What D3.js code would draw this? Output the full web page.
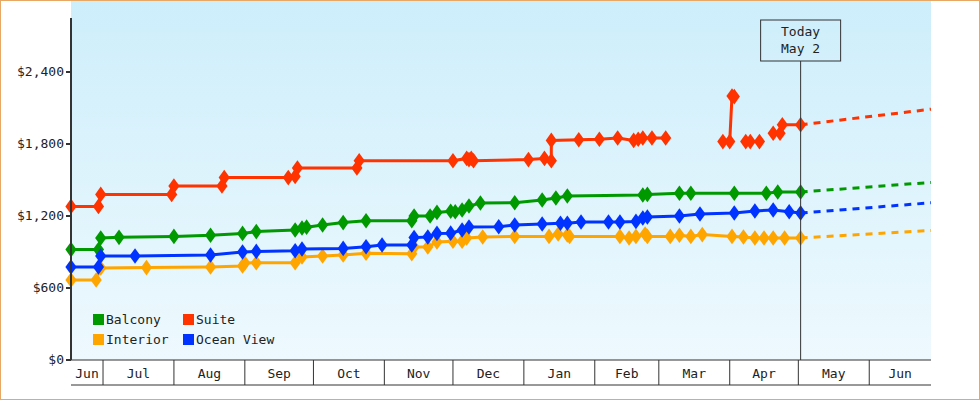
<!DOCTYPE html>
<html>
<head>
<meta charset="utf-8">
<script src="https://cdn.jsdelivr.net/npm/d3@7"></script>
<style>
  body { margin: 0; background: #fff; }
  svg { display: block; }
  text { font-family: "DejaVu Sans Mono", monospace; font-size: 13px; fill: #222; }
</style>
</head>
<body>
<svg id="chart" width="980" height="400"></svg>
<script>
// Price history per cabin type (date, price); null marks a gap
const balcony = [
  ["2024-06-17", 920], ["2024-06-29", 920], ["2024-06-30", 1017], ["2024-07-08", 1022],
  ["2024-08-01", 1030], ["2024-08-17", 1040], ["2024-08-31", 1055], ["2024-09-06", 1070],
  ["2024-09-23", 1083], ["2024-09-26", 1100], ["2024-09-28", 1107], ["2024-10-05", 1125],
  ["2024-10-14", 1145], ["2024-10-24", 1160], ["2024-11-13", 1160], ["2024-11-14", 1200],
  ["2024-11-21", 1200], ["2024-11-24", 1230], ["2024-11-30", 1240], ["2024-12-02", 1235],
  ["2024-12-05", 1250], ["2024-12-08", 1283], ["2024-12-13", 1308], ["2024-12-28", 1310],
  ["2025-01-09", 1333], ["2025-01-15", 1350], ["2025-01-20", 1367], ["2025-02-22", 1375],
  ["2025-02-24", 1380], ["2025-03-10", 1390], ["2025-03-15", 1390], ["2025-04-03", 1390],
  ["2025-04-17", 1390], ["2025-04-22", 1400], ["2025-05-02", 1400]
];
const suite = [
  ["2024-06-17", 1280], ["2024-06-29", 1280], ["2024-06-30", 1380], ["2024-07-31", 1380],
  ["2024-08-01", 1450], ["2024-08-22", 1450], ["2024-08-23", 1520], ["2024-09-20", 1520],
  ["2024-09-23", 1530], ["2024-09-24", 1600], ["2024-10-20", 1600], ["2024-10-21", 1660],
  ["2024-12-01", 1660], ["2024-12-07", 1680], ["2024-12-08", 1670], ["2024-12-09", 1680],
  ["2024-12-10", 1660], ["2025-01-03", 1670], ["2025-01-10", 1680], ["2025-01-13", 1660],
  ["2025-01-13", 1830], ["2025-01-25", 1835], ["2025-02-03", 1840], ["2025-02-11", 1850],
  ["2025-02-18", 1830], ["2025-02-20", 1840], ["2025-02-22", 1850], ["2025-02-26", 1850],
  ["2025-03-04", 1850], null,
  ["2025-03-29", 1820], ["2025-04-01", 1820], ["2025-04-02", 2200], ["2025-04-03", 2195], null,
  ["2025-04-08", 1820], ["2025-04-10", 1820], ["2025-04-14", 1820], null,
  ["2025-04-20", 1890], ["2025-04-23", 1890], ["2025-04-24", 1960], ["2025-05-02", 1960]
];
const interior = [
  ["2024-06-17", 667], ["2024-06-28", 667], ["2024-06-30", 767], ["2024-07-20", 770],
  ["2024-08-17", 775], ["2024-08-31", 783], ["2024-09-01", 808], ["2024-09-06", 810],
  ["2024-09-23", 810], ["2024-09-26", 858], ["2024-10-05", 867], ["2024-10-14", 875],
  ["2024-10-24", 889], ["2024-11-13", 886], ["2024-11-14", 942], ["2024-11-20", 942],
  ["2024-11-24", 983], ["2024-12-01", 990], ["2024-12-05", 990], ["2024-12-07", 1017],
  ["2024-12-14", 1025], ["2024-12-28", 1030], ["2025-01-12", 1030], ["2025-01-16", 1050],
  ["2025-01-20", 1042], ["2025-01-21", 1030], ["2025-02-12", 1030], ["2025-02-16", 1017],
  ["2025-02-19", 1030], ["2025-02-23", 1050], ["2025-02-24", 1030], ["2025-03-06", 1030],
  ["2025-03-10", 1040], ["2025-03-15", 1030], ["2025-03-20", 1045], ["2025-04-02", 1030],
  ["2025-04-07", 1025], ["2025-04-12", 1017], ["2025-04-16", 1017], ["2025-04-20", 1017],
  ["2025-04-25", 1017], ["2025-05-02", 1017]
];
const oceanView = [
  ["2024-06-17", 775], ["2024-06-29", 775], ["2024-06-30", 867], ["2024-07-15", 867],
  ["2024-08-17", 875], ["2024-08-31", 900], ["2024-09-06", 905], ["2024-09-23", 910],
  ["2024-09-26", 925], ["2024-10-14", 930], ["2024-10-24", 944], ["2024-10-31", 958],
  ["2024-11-13", 958], ["2024-11-14", 1020], ["2024-11-20", 1025], ["2024-11-24", 1055],
  ["2024-11-30", 1057], ["2024-12-05", 1083], ["2024-12-08", 1108], ["2024-12-21", 1110],
  ["2024-12-28", 1125], ["2025-01-09", 1133], ["2025-01-17", 1140], ["2025-01-20", 1140],
  ["2025-01-26", 1150], ["2025-02-07", 1150], ["2025-02-12", 1150], ["2025-02-19", 1155],
  ["2025-02-22", 1183], ["2025-02-24", 1192], ["2025-03-10", 1200], ["2025-03-19", 1217],
  ["2025-04-03", 1225], ["2025-04-12", 1242], ["2025-04-20", 1250], ["2025-04-27", 1235],
  ["2025-05-02", 1225]
];
// Projected end-of-range prices (dashed)
const forecastEnd = "2025-06-28";
const forecastValues = { Balcony: 1480, Suite: 2090, Interior: 1080, "Ocean View": 1310 };

const seriesNames = ["Balcony", "Suite", "Interior", "Ocean View"];
const seriesColors = ["#009900", "#ff3300", "#ffa500", "#0033ff"];
const yTicks = [0, 600, 1200, 1800, 2400];
const todayDate = "2025-05-02";
const todayLabel = ["Today", "May 2"];

const parse = d3.timeParse("%Y-%m-%d");
const svg = d3.select("#chart");
const plotLeft = 71, plotRight = 931, plotTop = 0, plotBottom = 360, axisBottom = 385;

const x = d3.scaleTime()
  .domain([parse("2024-06-17"), parse("2025-06-28")])
  .range([plotLeft, plotRight]);
const y = d3.scaleLinear().domain([0, 3000]).range([plotBottom, plotTop]);

// Background gradient
const grad = svg.append("defs").append("linearGradient")
  .attr("id", "bg").attr("x1", 0).attr("y1", 0).attr("x2", 0).attr("y2", 1);
grad.append("stop").attr("offset", "0%").attr("stop-color", "#cdeefb");
grad.append("stop").attr("offset", "100%").attr("stop-color", "#eef9fe");
svg.append("rect").attr("x", plotLeft).attr("y", plotTop)
  .attr("width", plotRight - plotLeft).attr("height", plotBottom - plotTop).attr("fill", "url(#bg)");

// Series
const line = d3.line()
  .defined(d => d !== null)
  .x(d => x(parse(d[0])))
  .y(d => y(d[1]));
const diamond = d3.symbol().type(d3.symbolDiamond).size(70);

[balcony, suite, interior, oceanView].forEach((data, i) => {
  const color = seriesColors[i];
  const last = data[data.length - 1];
  svg.append("path")
    .datum([last, [forecastEnd, forecastValues[seriesNames[i]]]])
    .attr("fill", "none").attr("stroke", color).attr("stroke-width", 3)
    .attr("stroke-dasharray", "7,6").attr("d", line);
  svg.append("path").datum(data)
    .attr("fill", "none").attr("stroke", color).attr("stroke-width", 3)
    .attr("d", line);
  svg.selectAll(null).data(data.filter(d => d !== null)).enter().append("path")
    .attr("transform", d => `translate(${x(parse(d[0]))},${y(d[1])}) scale(1.25,1)`)
    .attr("d", diamond).attr("fill", color);
});

// Today marker
const tx = x(parse(todayDate));
svg.append("line").attr("x1", tx).attr("x2", tx).attr("y1", 61).attr("y2", plotBottom)
  .attr("stroke", "#333").attr("stroke-width", 1);
svg.append("rect").attr("x", tx - 40).attr("y", 20).attr("width", 80).attr("height", 41)
  .attr("fill", "none").attr("stroke", "#333");
todayLabel.forEach((t, i) => {
  svg.append("text").attr("x", tx).attr("y", 36 + i * 17)
    .attr("text-anchor", "middle").text(t);
});

// Y axis
svg.append("line").attr("x1", plotLeft).attr("x2", plotLeft).attr("y1", 18).attr("y2", plotBottom)
  .attr("stroke", "#333").attr("stroke-width", 2);
yTicks.forEach(v => {
  svg.append("line").attr("x1", plotLeft - 5).attr("x2", plotLeft).attr("y1", y(v)).attr("y2", y(v))
    .attr("stroke", "#333").attr("stroke-width", 2);
  svg.append("text").attr("x", plotLeft - 7).attr("y", y(v) + 4).attr("text-anchor", "end")
    .text("$" + d3.format(",")(v));
});

// X axis month bands
svg.append("line").attr("x1", plotLeft).attr("x2", plotRight).attr("y1", plotBottom).attr("y2", plotBottom)
  .attr("stroke", "#333").attr("stroke-width", 1);
svg.append("line").attr("x1", plotLeft).attr("x2", plotRight).attr("y1", axisBottom).attr("y2", axisBottom)
  .attr("stroke", "#333").attr("stroke-width", 1);
const months = d3.timeMonth.range(d3.timeMonth.floor(x.domain()[0]), x.domain()[1]);
months.forEach(m => {
  const x0 = Math.max(plotLeft, x(m));
  const x1 = Math.min(plotRight, x(d3.timeMonth.offset(m, 1)));
  if (x(m) > plotLeft) {
    svg.append("line").attr("x1", x0).attr("x2", x0).attr("y1", plotBottom).attr("y2", axisBottom)
      .attr("stroke", "#333");
  }
  svg.append("text").attr("x", (x0 + x1) / 2).attr("y", 378).attr("text-anchor", "middle")
    .text(d3.timeFormat("%b")(m));
});

// Legend
seriesNames.forEach((name, i) => {
  const lx = 93 + (i % 2) * 90, ly = 314 + Math.floor(i / 2) * 20;
  svg.append("rect").attr("x", lx).attr("y", ly).attr("width", 11).attr("height", 11)
    .attr("fill", seriesColors[i]);
  svg.append("text").attr("x", lx + 13).attr("y", ly + 10).text(name);
});

// Page border
svg.append("rect").attr("x", 0.5).attr("y", 0.5).attr("width", 979).attr("height", 399)
  .attr("fill", "none").attr("stroke", "#e8a865");
</script>
</body>
</html>
